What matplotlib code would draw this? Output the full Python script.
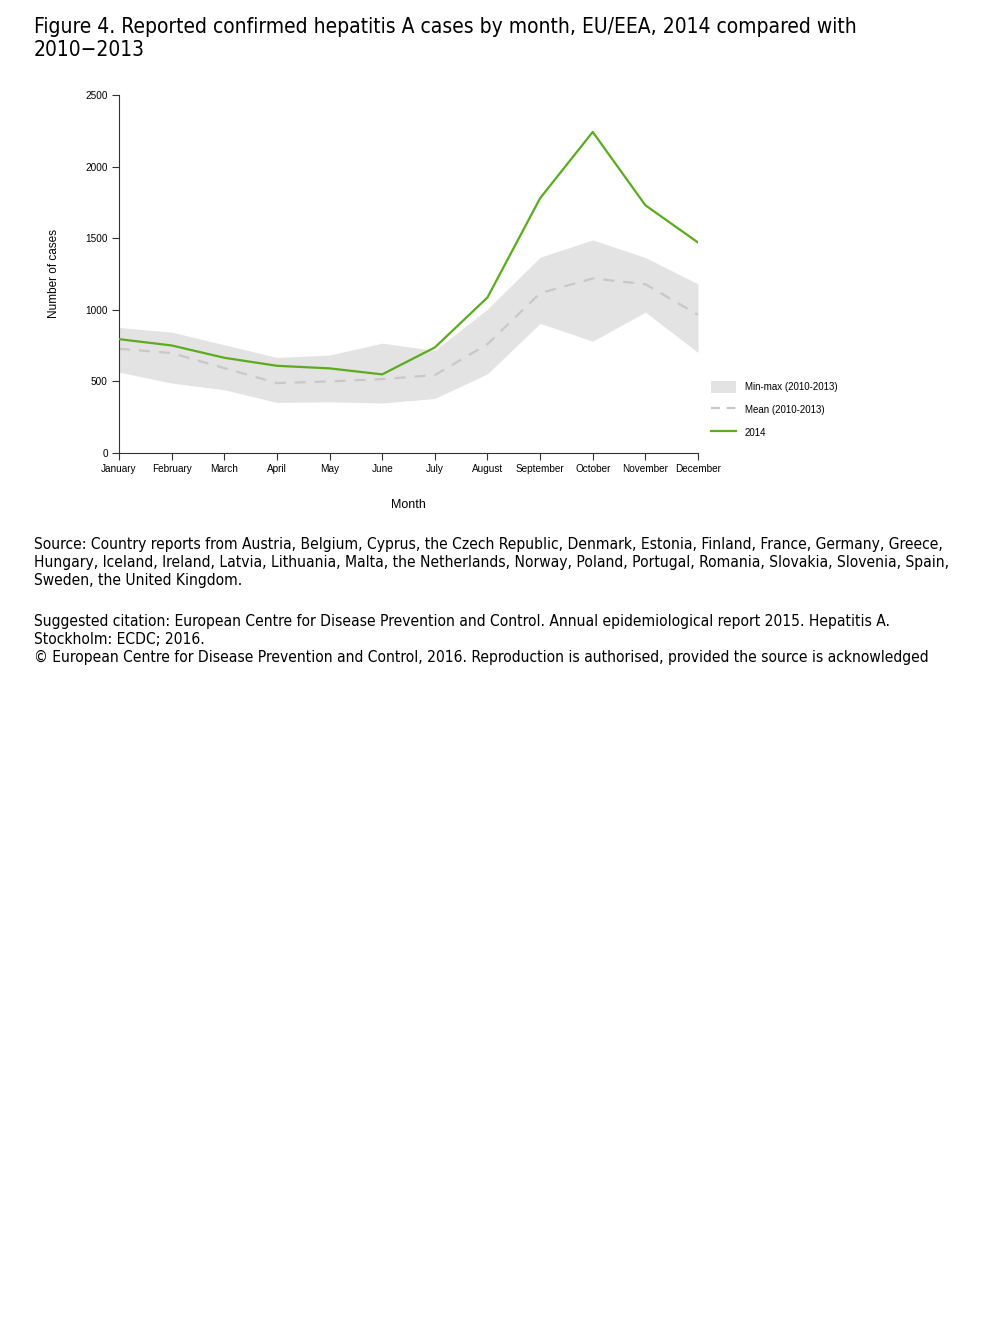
import matplotlib
matplotlib.use("Agg")
import matplotlib.pyplot as plt
from matplotlib.patches import Patch
from matplotlib.lines import Line2D

months = ["January", "February", "March", "April", "May", "June",
          "July", "August", "September", "October", "November", "December"]
cases_2014 = [795, 751, 665, 609, 591, 549, 737, 1086, 1779, 2242, 1730, 1470]
mean_10_13 = [728, 698, 593, 488, 500, 516, 544, 760, 1116, 1219, 1179, 965]
max_10_13 = [877, 844, 756, 667, 684, 767, 716, 1005, 1367, 1488, 1365, 1181]
min_10_13 = [565, 488, 442, 353, 358, 349, 381, 553, 905, 781, 984, 702]
yticks = [0, 500, 1000, 1500, 2000, 2500]

title = ("Figure 4. Reported confirmed hepatitis A cases by month, EU/EEA, 2014 compared with\n"
         "2010\u22122013")
source = ("Source: Country reports from Austria, Belgium, Cyprus, the Czech Republic, Denmark, Estonia, Finland, France, Germany, Greece,\n"
          "Hungary, Iceland, Ireland, Latvia, Lithuania, Malta, the Netherlands, Norway, Poland, Portugal, Romania, Slovakia, Slovenia, Spain,\n"
          "Sweden, the United Kingdom.")
citation = ("Suggested citation: European Centre for Disease Prevention and Control. Annual epidemiological report 2015. Hepatitis A.\n"
            "Stockholm: ECDC; 2016.\n"
            "\u00a9 European Centre for Disease Prevention and Control, 2016. Reproduction is authorised, provided the source is acknowledged")

W, H = 1008, 1344
fig = plt.figure(figsize=(W / 100, H / 100), dpi=100)
fig.patch.set_facecolor("white")

ax = fig.add_axes([119 / W, 1 - 453 / H, (698 - 119) / W, (453 - 95) / H])
x = list(range(len(months)))

ax.fill_between(x, min_10_13, max_10_13, color="#e3e3e3", lw=0, zorder=1)
ax.plot(x, mean_10_13, color="#c8c8c8", lw=1.6, dashes=(5, 4), zorder=2)
ax.plot(x, cases_2014, color="#5aac1c", lw=1.6, zorder=3)

ax.set_xlim(0, 11)
ax.set_ylim(0, 2500)
ax.set_xticks(x)
ax.set_xticklabels(months, fontsize=7.2, family="Liberation Sans")
ax.set_yticks(yticks)
ax.set_yticklabels([str(v) for v in yticks], fontsize=7.2, family="Liberation Sans")
ax.tick_params(length=5, width=0.8, color="#333333", pad=3)
for s in ["top", "right"]:
    ax.spines[s].set_visible(False)
for s in ["left", "bottom"]:
    ax.spines[s].set_linewidth(0.8)
    ax.spines[s].set_color("#333333")

ax.set_ylabel("Number of cases", fontsize=8.5, family="Liberation Sans", labelpad=18)
ax.set_xlabel("Month", fontsize=9, family="Liberation Sans", labelpad=18)

handles = [
    Patch(facecolor="#e3e3e3", edgecolor="none"),
    Line2D([0], [0], color="#c8c8c8", lw=1.6, dashes=(4, 3)),
    Line2D([0], [0], color="#5aac1c", lw=1.6),
]
labels = ["Min-max (2010-2013)", "Mean (2010-2013)", "2014"]
fig.legend(handles, labels, loc="upper left", bbox_to_anchor=(702 / W, 1 - 372 / H),
           frameon=False, prop={"family": "Liberation Sans", "size": 7},
           handlelength=2.6, handleheight=1.6, labelspacing=1.05, handletextpad=0.9)

fig.text(34 / W, 1 - 17 / H, title, fontsize=15, family="DejaVu Sans",
         fontstretch="condensed", va="top", ha="left", linespacing=1.2)
fig.text(34 / W, 1 - 537 / H, source, fontsize=11.2, family="DejaVu Sans",
         fontstretch="condensed", va="top", ha="left", linespacing=1.25)
fig.text(34 / W, 1 - 614 / H, citation, fontsize=11.2, family="DejaVu Sans",
         fontstretch="condensed", va="top", ha="left", linespacing=1.25)

fig.savefig("out.png", dpi=100)
